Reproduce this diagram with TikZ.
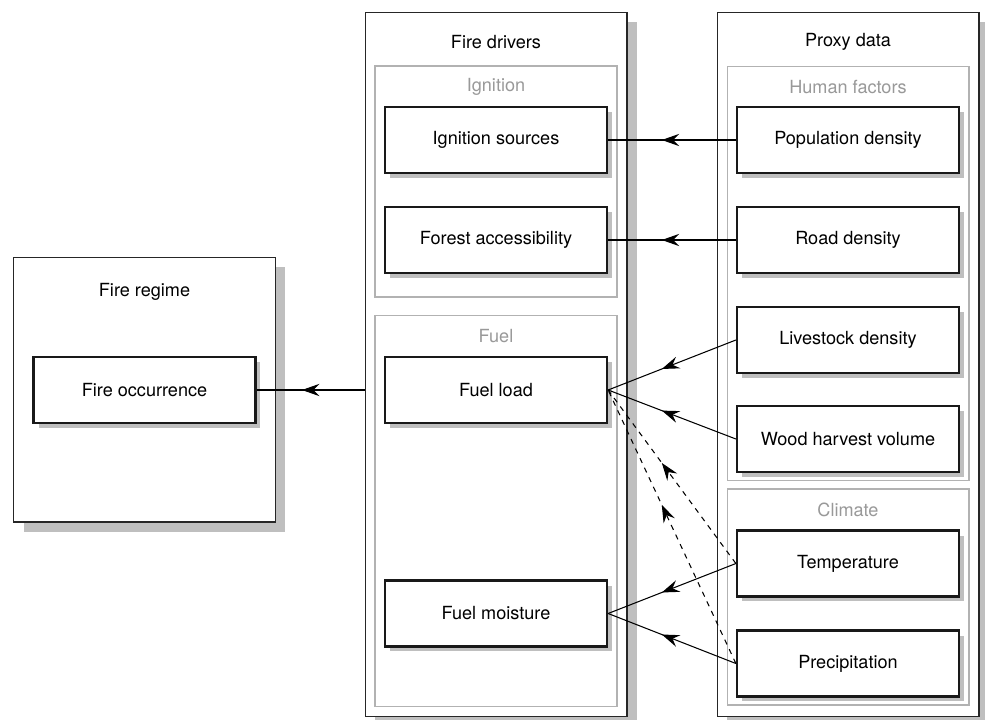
\documentclass[tikz,border=0pt]{standalone}
\usepackage{fontspec}
\setmainfont{TeX Gyre Heros}
\usetikzlibrary{arrows.meta,shadows,decorations.markings}

\begin{document}
\begin{tikzpicture}[x=0.02cm,y=-0.02cm,
  font=\fontsize{10.3}{12}\selectfont,
  outerbox/.style={draw=black!85, line width=0.6pt, fill=white,
    minimum width=5.24cm, drop shadow={shadow xshift=0.2cm, shadow yshift=-0.2cm, fill=black!25, opacity=1}},
  groupbox/.style={draw=black!30, line width=0.6pt, minimum width=4.84cm},
  factor/.style={draw=black!90, line width=1.3pt, fill=white,
    minimum width=4.44cm, minimum height=1.32cm,
    drop shadow={shadow xshift=0.1cm, shadow yshift=-0.1cm, fill=black!25, opacity=1}},
  grouptitle/.style={text=black!40},
  conn/.style={line width=0.6pt, postaction={decorate},
    decoration={markings, mark=at position 0.58 with {\arrow{Stealth[length=10pt,width=7pt,inset=3.5pt]}}}}]
\useasboundingbox (0,0) rectangle (985,720);

% outer boxes
\node[outerbox, minimum height=5.3cm] (regime) at (144.5,389.5) {};
\node[outerbox, minimum height=14.1cm] (drivers) at (496,364.5) {};
\node[outerbox, minimum height=14.1cm] (proxy) at (848,364.5) {};
\node at (144.5,292) {Fire regime};
\node at (496,42) {Fire drivers};
\node at (848,42) {Proxy data};

% groups
\node[groupbox, minimum height=4.62cm] (ignition) at (496,181.5) {};
\node[groupbox, minimum height=7.84cm] (fuel) at (496,511) {};
\node[groupbox, minimum height=8.3cm] (human) at (848,273.5) {};
\node[groupbox, minimum height=4.32cm] (climate) at (848,597) {};
\node[grouptitle] at (496,87) {Ignition};
\node[grouptitle] at (496,336) {Fuel};
\node[grouptitle] at (848,87) {Human factors};
\node[grouptitle] at (848,510) {Climate};

% factors
\node[factor] (occur) at (144.5,390) {Fire occurrence};
\node[factor] (ignsrc) at (496,140) {Ignition sources};
\node[factor] (access) at (496,240) {Forest accessibility};
\node[factor] (fload) at (496,390) {Fuel load};
\node[factor] (fmoist) at (496,613.5) {Fuel moisture};
\node[factor] (popdens) at (848,140) {Population density};
\node[factor] (roaddens) at (848,240) {Road density};
\node[factor] (livestock) at (848,340) {Livestock density};
\node[factor] (harvest) at (848,439) {Wood harvest volume};
\node[factor] (temp) at (848,563.5) {Temperature};
\node[factor] (precip) at (848,663.5) {Precipitation};

% links
\draw[conn] (drivers.west |- fload) -- (occur.east);
\draw[conn] (popdens.west) -- (ignsrc.east);
\draw[conn] (roaddens.west) -- (access.east);
\draw[conn] (livestock.west) -- (fload.east);
\draw[conn] (harvest.west) -- (fload.east);
\draw[conn, dashed] (temp.west) -- (fload.east);
\draw[conn, dashed] (precip.west) -- (fload.east);
\draw[conn] (temp.west) -- (fmoist.east);
\draw[conn] (precip.west) -- (fmoist.east);
\end{tikzpicture}
\end{document}
